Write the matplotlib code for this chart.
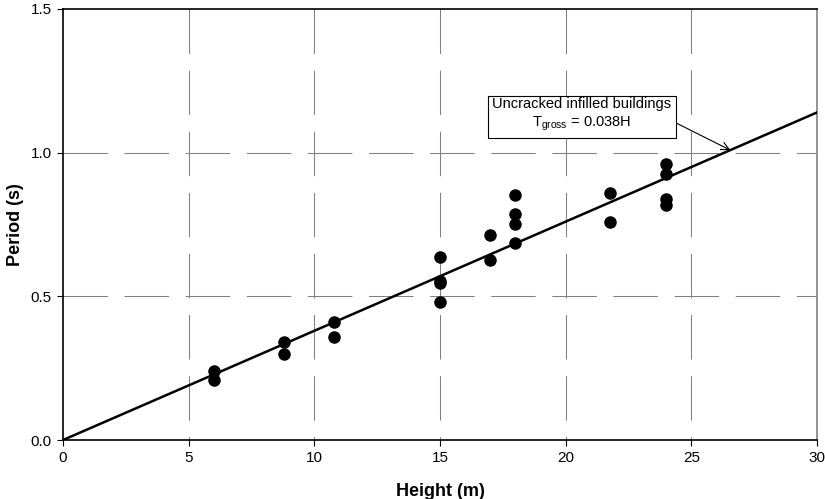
import numpy as np
import matplotlib.pyplot as plt

plt.rcParams['font.family'] = ['Liberation Sans', 'DejaVu Sans']
plt.rcParams['lines.scale_dashes'] = False

# Datos medidos: altura (m) y periodo (s)
altura = [6, 6, 8.8, 8.8, 10.8, 10.8, 15, 15, 15, 15, 17, 17,
          18, 18, 18, 18, 21.75, 21.75, 24, 24, 24, 24]
periodo = [0.240, 0.209, 0.341, 0.299, 0.410, 0.358, 0.636, 0.553, 0.545, 0.481,
           0.712, 0.626, 0.854, 0.787, 0.753, 0.687, 0.861, 0.758,
           0.960, 0.926, 0.838, 0.817]

coef = 0.038
h_linea = np.array([0, 30])

x_ticks = [0, 5, 10, 15, 20, 25, 30]
y_ticks = [0.0, 0.5, 1.0, 1.5]

fig = plt.figure(figsize=(8.25, 4.99), dpi=100)
ax = fig.add_axes([63 / 825, 59 / 499, 754 / 825, 431 / 499])

# Rejilla discontinua (vertical desde arriba, horizontal desde la izquierda)
estilo = (0, (32, 12))
for xv in x_ticks[1:-1]:
    ax.axvline(xv, ymin=1, ymax=0, color='#808080', lw=0.75, ls=estilo, zorder=1)
for yv in y_ticks[1:-1]:
    ax.axhline(yv, color='#808080', lw=0.75, ls=estilo, zorder=1)

ax.plot(h_linea, coef * h_linea, color='black', lw=1.8, zorder=3)
ax.plot(altura, periodo, 'o', color='black', ms=8, zorder=4)

ax.annotate('Uncracked infilled buildings\n$\\mathregular{T_{gross}}$ = 0.038H',
            xy=(26.55, coef * 26.55), xytext=(20.65, 1.13),
            ha='center', va='center', fontsize=10.5, linespacing=1.3,
            bbox=dict(boxstyle='square,pad=0.3', fc='white', ec='black', lw=0.8),
            arrowprops=dict(arrowstyle='->', color='black', lw=0.8, relpos=(1, 0.35),
                            shrinkA=0, shrinkB=0, mutation_scale=14),
            zorder=5)

ax.set_xlim(0, 30)
ax.set_ylim(0, 1.5)
ax.set_xticks(x_ticks)
ax.set_yticks(y_ticks)
ax.set_yticklabels([f'{v:.1f}' for v in y_ticks])
ax.tick_params(direction='out', length=4, width=0.8, labelsize=11, pad=4)

for lado in ['left', 'bottom', 'top']:
    ax.spines[lado].set_color('black')
    ax.spines[lado].set_linewidth(1.2)
ax.spines['right'].set_color('#808080')
ax.spines['right'].set_linewidth(1.2)

ax.set_xlabel('Height (m)', fontsize=13, fontweight='bold', labelpad=13)
ax.set_ylabel('Period (s)', fontsize=13, fontweight='bold', labelpad=5)

plt.savefig('out.png', dpi=100)
